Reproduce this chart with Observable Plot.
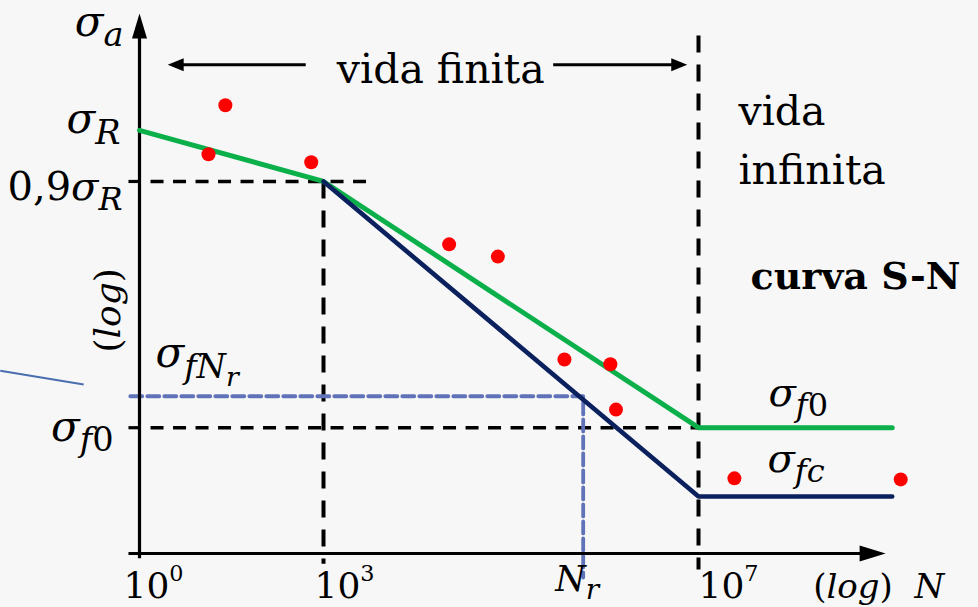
<!DOCTYPE html>
<html>
<head>
<meta charset="utf-8">
<script src="https://cdn.jsdelivr.net/npm/d3@7"></script>
<script src="https://cdn.jsdelivr.net/npm/@observablehq/plot@0.6"></script>
<style>
  html, body { margin: 0; padding: 0; background: #f7f7f7; }
  #chart svg { display: block; }
</style>
</head>
<body>
<div id="chart"></div>
<script>
// Schematic S-N (Wöhler) curve. x = exponent of N (log axis), y = log stress (schematic units).

// Stress levels
const sigmaR = 7.94;     // σ_R
const sigma09R = 6.98;   // 0,9σ_R
const sigmaFNr = 2.95;   // σ_fNr
const sigmaF0 = 2.36;    // σ_f0
const sigmaFc = 1.07;    // σ_fc

// Life (exponent of N)
const nKnee = 3;         // 10^3
const nEndurance = 7;    // 10^7
const nR = 5.77;         // N_r
const nEnd = 9.05;       // end of the horizontal branches

const xBreaks = [0, 3, 7, 9];
const xTickExps = [0, 3, 7];

// Curves
const greenX = [0, nKnee, nEndurance, nEnd];
const greenY = [sigmaR, sigma09R, sigmaF0, sigmaF0];
const navyX = [nKnee, nEndurance, nEnd];
const navyY = [sigma09R, sigmaFc, sigmaFc];

// Test results
const testLogN = [1.40, 1.125, 2.80, 4.34, 4.86, 5.57, 6.06, 6.12, 7.38, 9.14];
const testStress = [8.41, 7.49, 7.34, 5.80, 5.57, 3.64, 3.55, 2.70, 1.41, 1.39];

// Axes and annotation extents
const xAxisStart = -0.18, xAxisTip = 8.98;
const yAxisStart = -0.09, yAxisTip = 10.13;
const rangeArrowY = 9.17;
const finiteLeftTip = 0.46, finiteLeftEnd = 2.71;
const finiteRightStart = 5.45, finiteRightTip = 6.88;
const leader = [{x1: -2.27, y1: 3.43, x2: -0.91, y2: 3.17}];

const green = greenX.map((x, i) => ({x, y: greenY[i]}));
const navy = navyX.map((x, i) => ({x, y: navyY[i]}));
const tests = testLogN.map((x, i) => ({x, y: testStress[i]}));

const guidesH = [
  {x1: 0.18, x2: 3.47, y: sigma09R},
  {x1: 0.18, x2: 7.15, y: sigmaF0}
];
const guidesV = [
  {x: nKnee, y1: sigma09R, y2: -0.19},
  {x: nEndurance, y1: 9.72, y2: -0.30}
];
const ticksY = [sigma09R, sigmaF0];
const nrGuide = [
  {x: -0.15, y: sigmaFNr},
  {x: nR, y: sigmaFNr},
  {x: nR, y: -0.45}
];

// Filled arrowheads, tip at the anchor point
const head = (len, half, dir) => ({
  draw(ctx) {
    const pts = {
      up: [[0, 0], [-half, len], [half, len]],
      right: [[0, 0], [-len, -half], [-len, half]],
      left: [[0, 0], [len, -half], [len, half]]
    }[dir];
    ctx.moveTo(...pts[0]); ctx.lineTo(...pts[1]); ctx.lineTo(...pts[2]); ctx.closePath();
  }
});

const MATH = "DejaVu Serif";
const TEXT = "DejaVu Serif";

const label = (x, y, text, opts) =>
  Plot.text([{x, y, text}], {x: "x", y: "y", text: "text", lineAnchor: "bottom", fill: "#000", fontFamily: MATH, ...opts});

const tickDx = [-16, -9, 0];

const chart = Plot.plot({
  width: 978,
  height: 607,
  marginTop: 0, marginRight: 0, marginBottom: 0, marginLeft: 0,
  style: {background: "#f7f7f7", overflow: "visible"},
  x: {type: "linear", domain: xBreaks, range: [139, 323, 698, 887], axis: null},
  y: {type: "linear", domain: [0, 10], range: [553, 20], axis: null},
  marks: [
    Plot.link(leader, {x1: "x1", y1: "y1", x2: "x2", y2: "y2", stroke: "#4a6fb0", strokeWidth: 2}),
    Plot.link(guidesH, {x1: "x1", x2: "x2", y1: "y", y2: "y", stroke: "#000", strokeWidth: 3.6, strokeDasharray: "13,9.5"}),
    Plot.link(guidesV, {x1: "x", x2: "x", y1: "y1", y2: "y2", stroke: "#000", strokeWidth: 4, strokeDasharray: "17,12"}),
    Plot.link(ticksY, {x1: xAxisStart, x2: 0, y1: d => d, y2: d => d, stroke: "#000", strokeWidth: 3.2}),
    Plot.line(nrGuide, {x: "x", y: "y", stroke: "#6073b9", strokeWidth: 3.8, strokeDasharray: "12,5"}),
    // axes
    Plot.link([0], {x1: xAxisStart, x2: xAxisTip - 0.2, y1: 0, y2: 0, stroke: "#000", strokeWidth: 3.2}),
    Plot.link([0], {x1: 0, x2: 0, y1: yAxisStart, y2: yAxisTip - 0.3, stroke: "#000", strokeWidth: 3.2}),
    Plot.dot([{x: xAxisTip, y: 0}], {x: "x", y: "y", symbol: head(26, 8, "right"), fill: "#000"}),
    Plot.dot([{x: 0, y: yAxisTip}], {x: "x", y: "y", symbol: head(25, 7.5, "up"), fill: "#000"}),
    // finite-life range arrows
    Plot.link([0], {x1: finiteLeftEnd, x2: finiteLeftTip + 0.1, y1: rangeArrowY, y2: rangeArrowY, stroke: "#000", strokeWidth: 3.2}),
    Plot.link([0], {x1: finiteRightStart, x2: finiteRightTip - 0.1, y1: rangeArrowY, y2: rangeArrowY, stroke: "#000", strokeWidth: 3.2}),
    Plot.dot([{x: finiteLeftTip, y: rangeArrowY}], {x: "x", y: "y", symbol: head(16, 6.5, "left"), fill: "#000"}),
    Plot.dot([{x: finiteRightTip, y: rangeArrowY}], {x: "x", y: "y", symbol: head(16, 6.5, "right"), fill: "#000"}),
    // curves
    Plot.line(green, {x: "x", y: "y", stroke: "#0bb04b", strokeWidth: 5, strokeLinejoin: "miter"}),
    Plot.line(navy, {x: "x", y: "y", stroke: "#0a215e", strokeWidth: 4.6, strokeLinejoin: "miter"}),
    Plot.dot(tests, {x: "x", y: "y", r: 7, fill: "#ff0000"}),
    // y-axis labels
    label(0, 10, "$σ_{a}", {textAnchor: "end", dx: -16, dy: 15, fontSize: 42}),
    label(0, sigmaR, "$σ_{R}", {textAnchor: "end", dx: -19, dy: 3, fontSize: 42}),
    label(0, sigma09R, "$0,9σ_{R}", {textAnchor: "end", dx: -17, dy: 19, fontSize: 40}),
    label(0, sigmaF0, "$σ_{f0}", {textAnchor: "end", dx: -26, dy: 13, fontSize: 42}),
    label(0, sigmaFNr, "$σ_{fN_{r}}", {textAnchor: "start", dx: 16, dy: -29, fontSize: 42}),
    label(0, 4.56, "$(log)", {textAnchor: "middle", lineAnchor: "middle", rotate: -90, dx: -31, fontSize: 36}),
    // right-hand labels
    label(nEndurance, sigmaF0, "$σ_{f0}", {textAnchor: "start", dx: 70, dy: -22, fontSize: 40}),
    label(nEndurance, sigmaFc, "$σ_{fc}", {textAnchor: "start", dx: 69, dy: -24, fontSize: 40}),
    // x-axis labels
    ...xTickExps.map((e, i) =>
      label(e, 0, `$10^{${e}}`, {textAnchor: "start", dx: tickDx[i], dy: 44, fontSize: 36})),
    label(nR, 0, "$N_{r}", {textAnchor: "start", dx: -28, dy: 37, fontSize: 35}),
    label(nEnd, 0, "$(log)\u00a0\u00a0N", {textAnchor: "start", dx: -79, dy: 44, fontSize: 34}),
    // region annotations
    label((finiteLeftEnd + finiteRightStart) / 2, rangeArrowY, "vida finita",
      {textAnchor: "middle", dx: 16, dy: 18, fontSize: 41, fontFamily: TEXT}),
    label(nEndurance, 10, "vida\ninfinita",
      {textAnchor: "start", lineAnchor: "top", lineHeight: 1.45, dx: 40, dy: 62, fontSize: 41, fontFamily: TEXT}),
    label(nEndurance, 10, "curva S-N",
      {textAnchor: "start", dx: 52, dy: 268, fontSize: 38, fontWeight: "bold", fontFamily: TEXT})
  ]
});

document.getElementById("chart").appendChild(chart);

// Turn "$σ_{R}"-style strings into tspans with sub/superscripts; letters in italic.
function typeset(svg) {
  const NS = "http://www.w3.org/2000/svg";
  for (const el of svg.querySelectorAll("text")) {
    const s = el.textContent;
    if (!s.startsWith("$")) continue;
    const base = parseFloat(getComputedStyle(el).fontSize);
    const runs = [];
    let i = 1;
    (function walk(size, shift) {
      while (i < s.length) {
        const c = s[i];
        if (c === "}") { i++; return; }
        if ((c === "_" || c === "^") && s[i + 1] === "{") {
          i += 2;
          if (c === "_") walk(size * 0.8, shift + size * 0.25);
          else walk(size * 0.62, shift - size * 0.45);
          continue;
        }
        const italic = /[A-Za-z\u03b1-\u03c9]/.test(c);
        const last = runs[runs.length - 1];
        if (last && last.size === size && last.shift === shift && last.italic === italic) last.t += c;
        else runs.push({t: c, size, shift, italic});
        i++;
      }
    })(base, 0);
    el.textContent = "";
    let cur = 0;
    for (const r of runs) {
      const ts = document.createElementNS(NS, "tspan");
      if (r.shift !== cur) ts.setAttribute("dy", r.shift - cur);
      cur = r.shift;
      ts.setAttribute("font-size", r.size);
      ts.setAttribute("font-style", r.italic ? "italic" : "normal");
      ts.textContent = r.t;
      el.appendChild(ts);
    }
  }
}
typeset(chart);
</script>
</body>
</html>
